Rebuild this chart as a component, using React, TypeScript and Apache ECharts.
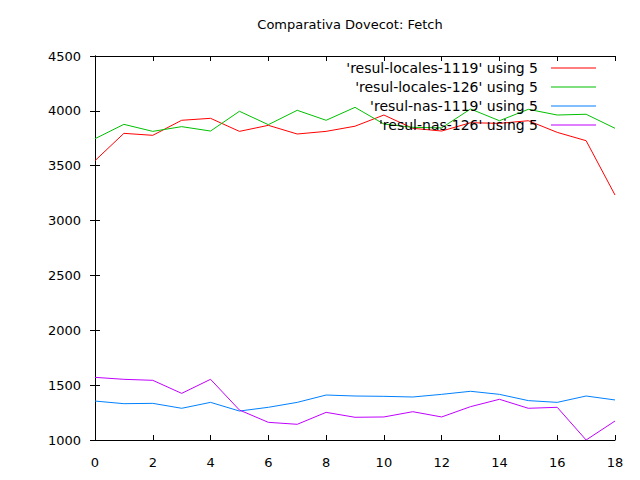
import React, { useEffect, useRef } from "react";
import * as echarts from "echarts";

const xValues = [0, 1, 2, 3, 4, 5, 6, 7, 8, 9, 10, 11, 12, 13, 14, 15, 16, 17, 18];
const seriesNames = [
  "'resul-locales-1119' using 5",
  "'resul-locales-126' using 5",
  "'resul-nas-1119' using 5",
  "'resul-nas-126' using 5",
];
const locales1119 = [3546, 3795, 3777, 3914, 3932, 3813, 3868, 3789, 3813, 3860, 3962, 3841, 3816, 3892, 3886, 3910, 3804, 3728, 3233];
const locales126 = [3746, 3877, 3813, 3856, 3816, 3996, 3874, 4005, 3914, 4032, 3880, 3850, 3845, 4017, 3910, 4014, 3962, 3969, 3841];
const nas1119 = [1355, 1331, 1334, 1289, 1343, 1264, 1298, 1343, 1410, 1401, 1398, 1392, 1416, 1444, 1416, 1359, 1343, 1401, 1365];
const nas126 = [1571, 1553, 1544, 1425, 1553, 1273, 1161, 1143, 1252, 1207, 1210, 1258, 1210, 1304, 1371, 1289, 1298, 1000, 1173];
const colors = ["#ff0000", "#00c000", "#0080ff", "#c000ff"];

const FONT = "DejaVu Sans, sans-serif";

export default function App() {
  const ref = useRef<HTMLDivElement>(null);
  useEffect(() => {
    if (!ref.current) return;
    const chart = echarts.init(ref.current, undefined, { renderer: "svg" });
    const all = [locales1119, locales126, nas1119, nas126];
    const series = all.map((vals, k) => ({
      name: seriesNames[k],
      type: "line" as const,
      data: xValues.map((x, i) => [x, vals[i]]),
      showSymbol: false,
      symbol: "none",
      color: colors[k],
      lineStyle: { color: colors[k], width: 1 },
      itemStyle: { color: colors[k] },
      xAxisIndex: 0,
      yAxisIndex: 0,
    }));
    const legends = seriesNames.map((n, k) => ({
      data: [{ name: n }],
      icon: "rect",
      itemStyle: { color: colors[k], borderWidth: 0 },
      lineStyle: { color: colors[k] },
      inactiveColor: colors[k],
      right: 44,
      top: 61 + k * 19,
      align: "right" as const,
      itemWidth: 45,
      itemHeight: 1,
      itemGap: 0,
      padding: 0,
      textStyle: { fontFamily: FONT, fontSize: 14, color: "#000", padding: [0, 8, 12, 0] },
      selectedMode: false,
    }));
    const axisCommon = {
      axisLine: { show: true, lineStyle: { color: "#000", width: 1 } },
      axisTick: { show: true, inside: true, length: 5, lineStyle: { color: "#000" } },
      splitLine: { show: false },
    };
    chart.setOption({
      animation: false,
      backgroundColor: "#fff",
      color: colors,
      title: {
        text: "Comparativa Dovecot: Fetch",
        left: 345,
        textAlign: "center",
        top: 13,
        textStyle: { fontFamily: FONT, fontSize: 13, fontWeight: "normal", color: "#000" },
      },
      legend: legends,
      grid: { left: 95, right: 25, top: 56, bottom: 40, containLabel: false },
      xAxis: [
        {
          type: "value",
          min: 0,
          max: 18,
          interval: 2,
          position: "bottom",
          ...axisCommon,
          axisLabel: { fontFamily: FONT, fontSize: 13, color: "#000", margin: 16 },
        },
        {
          type: "value",
          min: 0,
          max: 18,
          interval: 2,
          position: "top",
          ...axisCommon,
          axisLabel: { show: false },
        },
      ],
      yAxis: [
        {
          type: "value",
          min: 1000,
          max: 4500,
          interval: 500,
          position: "left",
          ...axisCommon,
          axisLabel: {
            fontFamily: FONT,
            fontSize: 13,
            color: "#000",
            margin: 14,
            formatter: (v: number) => String(v),
          },
        },
        {
          type: "value",
          min: 1000,
          max: 4500,
          interval: 500,
          position: "right",
          ...axisCommon,
          axisLabel: { show: false },
        },
      ],
      series,
    });
    return () => chart.dispose();
  }, []);
  return (
    <div
      ref={ref}
      style={{ position: "fixed", left: 0, top: 0, width: 640, height: 480 }}
    />
  );
}
